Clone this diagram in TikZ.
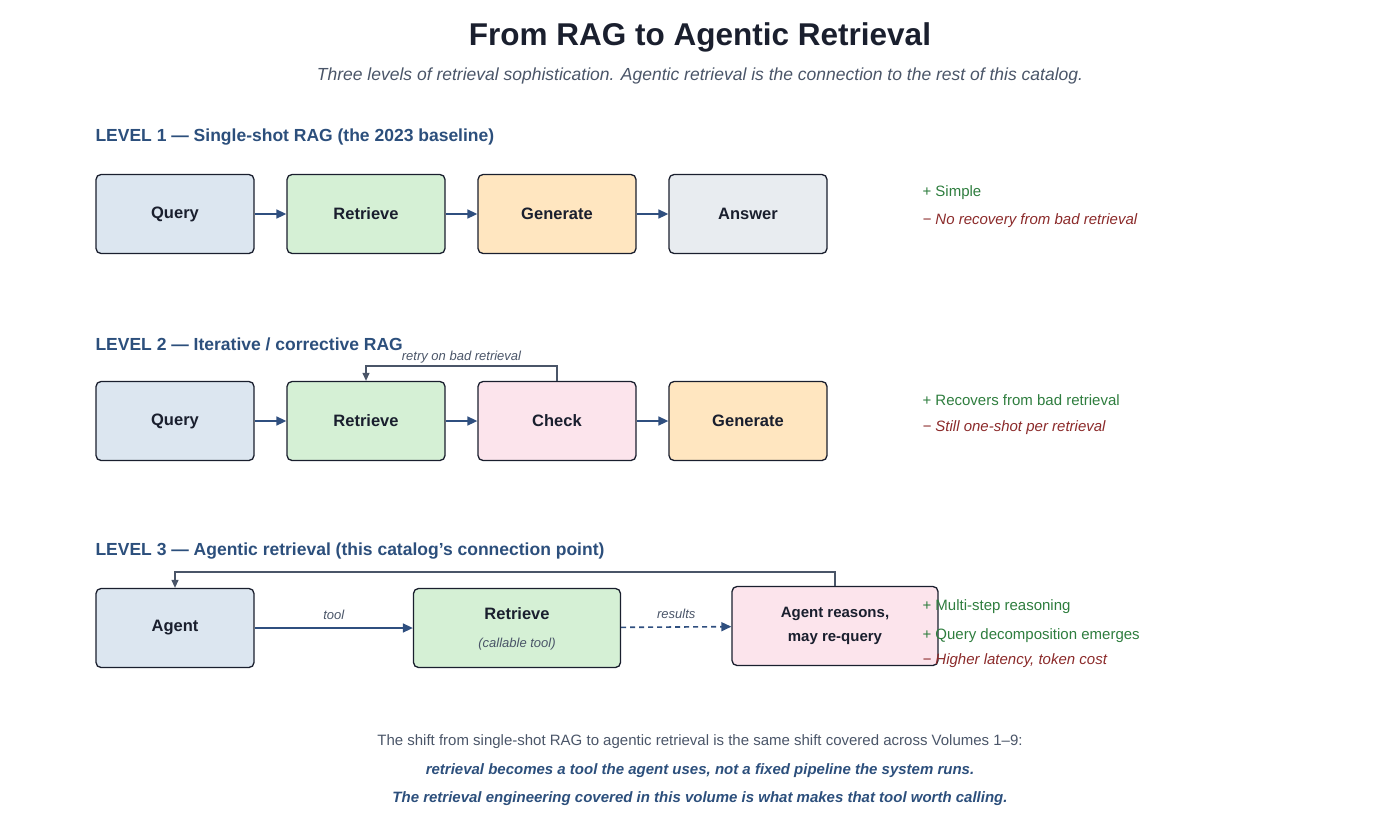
\documentclass[tikz,border=0pt]{standalone}
\usepackage{fontspec}
\setmainfont{Liberation Sans}
\usetikzlibrary{arrows.meta}
\definecolor{bd}{HTML}{1A1F2E}
\definecolor{ar}{HTML}{2F4F7F}
\definecolor{hd}{HTML}{2C4F7C}
\definecolor{gr}{HTML}{2E7D3E}
\definecolor{rd}{HTML}{8B2A2A}
\definecolor{lp}{HTML}{4A5568}
\definecolor{cq}{HTML}{DCE6F0}
\definecolor{cr}{HTML}{D5F0D5}
\definecolor{cg}{HTML}{FFE6C0}
\definecolor{ca}{HTML}{E8ECF0}
\definecolor{cc}{HTML}{FCE4EC}
\begin{document}
\begin{tikzpicture}[x=1pt,y=-1pt,
 box/.style={draw=bd,line width=1.3pt,rounded corners=5pt,minimum width=158pt,minimum height=79pt,inner sep=0pt,align=center,font=\fontsize{16.5}{20}\selectfont\bfseries,text=bd},
 arr/.style={draw=ar,line width=1.6pt,-{Triangle[length=10pt,width=9pt]}},
 loop/.style={draw=lp,line width=1.2pt,-{Triangle[length=8pt,width=7pt]}},
 hd/.style={anchor=west,font=\fontsize{17.5}{20}\selectfont\bfseries,text=hd},
 pro/.style={anchor=west,font=\fontsize{15}{18}\selectfont,text=gr},
 con/.style={anchor=west,font=\fontsize{15}{18}\selectfont\itshape,text=rd},
 lab/.style={font=\fontsize{13}{15}\selectfont\itshape,text=lp}]
\useasboundingbox (0,0) rectangle (1400,827);
\node (title) at (700,37) {\fontsize{31.5}{36}\selectfont\bfseries\color{bd}From RAG to Agentic Retrieval};
\node (sub) at (700,76) {\fontsize{17.5}{20}\selectfont\itshape\color{lp}Three levels of retrieval sophistication. Agentic retrieval is the connection to the rest of this catalog.};
% Level 1
\node[hd] (h1) at (92,137) {LEVEL 1 — Single-shot RAG (the 2023 baseline)};
\node[box,fill=cq] (q1) at (175,214) {Query};
\node[box,fill=cr] (r1) at (366,214) {Retrieve};
\node[box,fill=cg] (g1) at (557,214) {Generate};
\node[box,fill=ca] (a1) at (748,214) {Answer};
\draw[arr] (q1) -- (r1); \draw[arr] (r1) -- (g1); \draw[arr] (g1) -- (a1);
\node[pro] (p1) at (919,193) {+ Simple};
\node[con] (c1) at (919,221) {− No recovery from bad retrieval};
% Level 2
\node[hd] (h2) at (92,344) {LEVEL 2 — Iterative / corrective RAG};
\node[box,fill=cq] (q2) at (175,421) {Query};
\node[box,fill=cr] (r2) at (366,421) {Retrieve};
\node[box,fill=cc] (k2) at (557,421) {Check};
\node[box,fill=cg] (g2) at (748,421) {Generate};
\draw[arr] (q2) -- (r2); \draw[arr] (r2) -- (k2); \draw[arr] (k2) -- (g2);
\draw[loop] (k2.north) |- (366,366) node[lab,pos=0.75,above=-1pt] {retry on bad retrieval} -- (r2.north);
\node[pro] (p2) at (919,400) {+ Recovers from bad retrieval};
\node[con] (c2) at (919,428) {− Still one-shot per retrieval};
% Level 3
\node[hd] (h3) at (92,551) {LEVEL 3 — Agentic retrieval (this catalog’s connection point)};
\node[box,fill=cq] (ag) at (175,628) {Agent};
\node[box,fill=cr,minimum width=207pt] (r3) at (517,628) {};
\node[font=\fontsize{16.5}{20}\selectfont\bfseries,text=bd] (r3t) at (517,614) {Retrieve};
\node[lab] (r3s) at (517,644) {(callable tool)};
\node[box,fill=cc,minimum width=206pt,font=\fontsize{15}{24}\selectfont\bfseries] (ar) at (835,626) {Agent reasons,\\may re-query};
\draw[arr] (ag) -- node[lab,above=4pt] {tool} (r3);
\draw[arr,dashed,dash pattern=on 5pt off 4pt] (r3) -- node[lab,above=4pt] {results} (ar);
\draw[loop] (ar.north) |- (175,572) -- (ag.north);
\node[pro] (p3) at (919,607) {+ Multi-step reasoning};
\node[pro] (p4) at (919,636) {+ Query decomposition emerges};
\node[con] (c3) at (919,661) {− Higher latency, token cost};
% bottom
\node[font=\fontsize{15}{18}\selectfont,text=lp] (b1) at (700,742) {The shift from single-shot RAG to agentic retrieval is the same shift covered across Volumes 1–9:};
\node[font=\fontsize{15}{18}\selectfont\bfseries\itshape,text=hd] (b2) at (700,771) {retrieval becomes a tool the agent uses, not a fixed pipeline the system runs.};
\node[font=\fontsize{15}{18}\selectfont\bfseries\itshape,text=hd] (b3) at (700,799) {The retrieval engineering covered in this volume is what makes that tool worth calling.};
\end{tikzpicture}
\end{document}
